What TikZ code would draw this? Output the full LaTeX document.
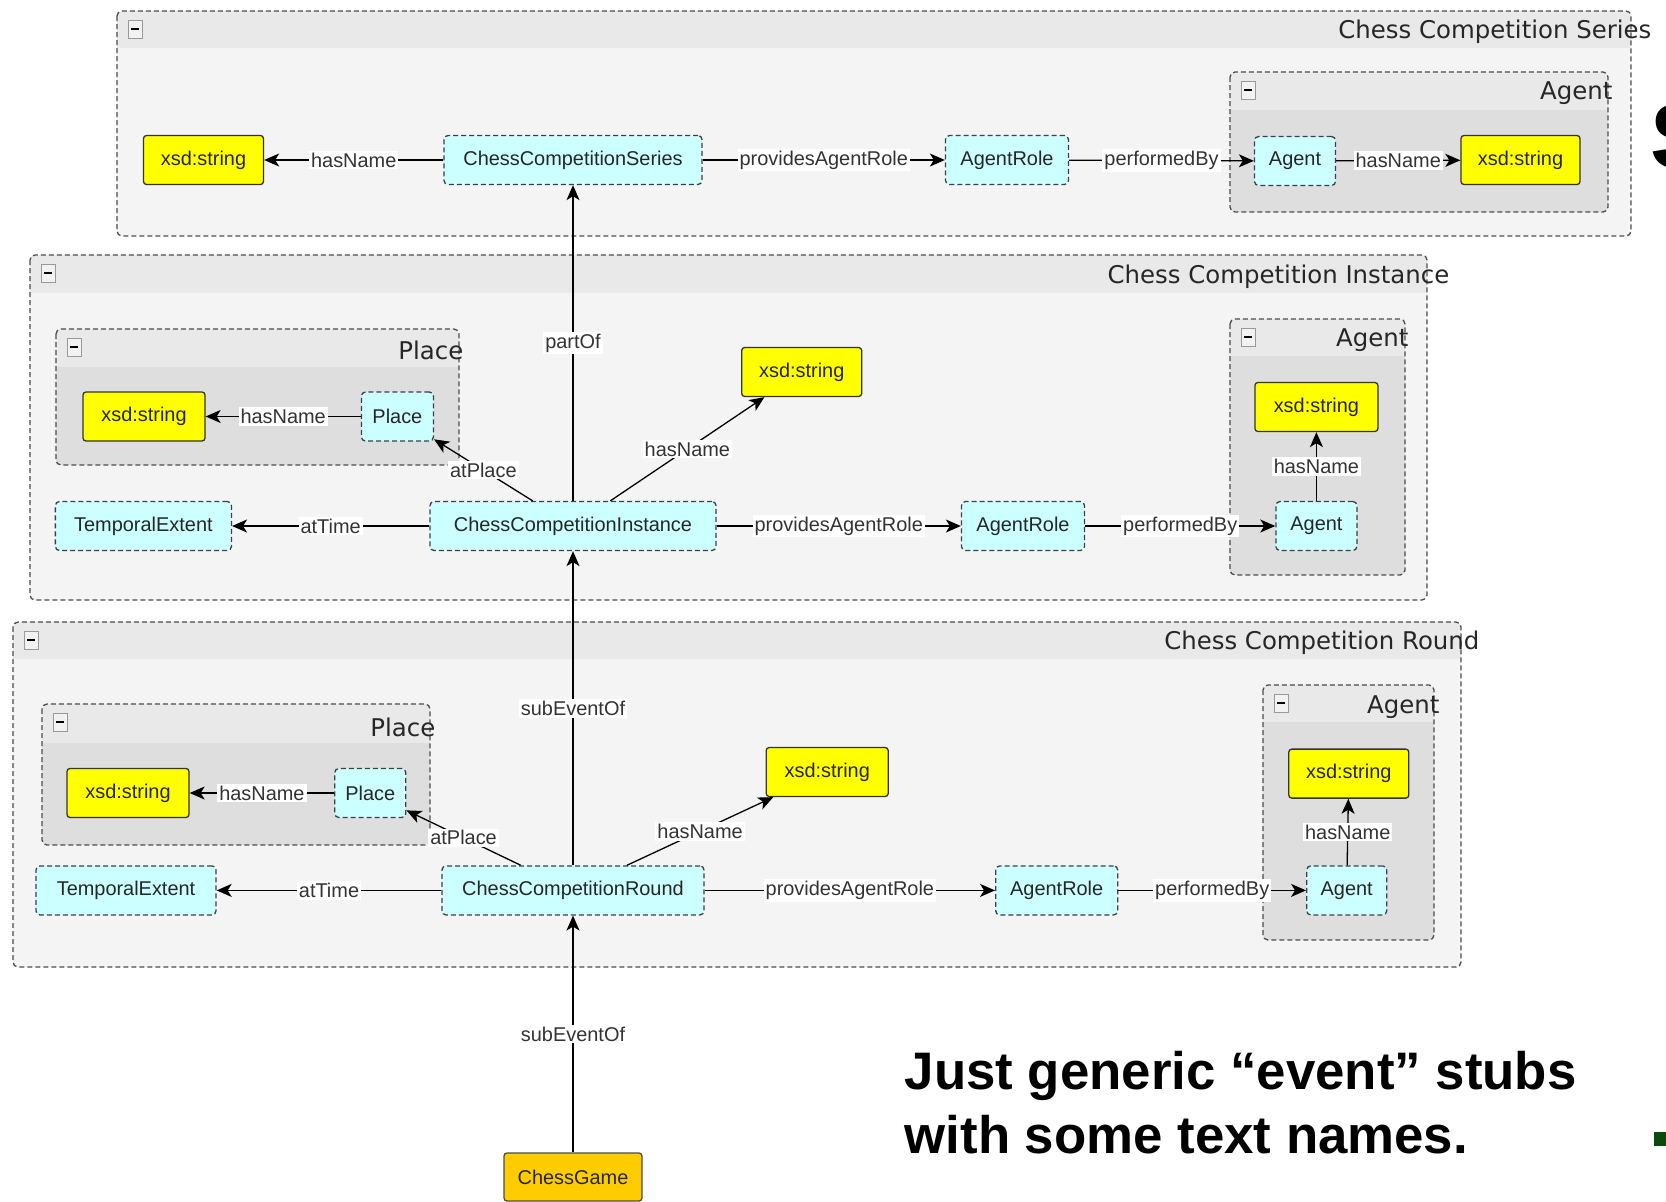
\documentclass[tikz,border=0pt]{standalone}
\usepackage{fontspec}
\setmainfont{Liberation Sans}
\newfontfamily\titlefont{DejaVu Sans}
\usetikzlibrary{arrows.meta}

\definecolor{clsfill}{HTML}{CCFFFF}
\definecolor{litfill}{HTML}{FFFF00}
\definecolor{gamefill}{HTML}{FFCC00}
\definecolor{grphead}{HTML}{E9E9E9}
\definecolor{grpbody}{HTML}{F4F4F4}
\definecolor{subbody}{HTML}{DEDEDE}
\definecolor{slidegreen}{HTML}{0A4A0A}

\newcommand{\lblsize}{\fontsize{20}{22}\selectfont}
% collapse button in the corner of a group
\newcommand{\MinusBox}[2]{%
  \draw[black!40, fill=black!5, line width=0.8bp] (#1-7,#2-9) rectangle (#1+7,#2+9);
  \draw[line width=2.2bp] (#1-4,#2) -- (#1+4,#2);}
% group frame: x1, y1, x2, y2, bottom of header, body colour
\newcommand{\GroupBox}[6]{%
  \begin{scope}
    \clip[rounded corners=5bp] (#1,#2) rectangle (#3,#4);
    \fill[grphead] (#1,#2) rectangle (#3,#5);
    \fill[#6] (#1,#5) rectangle (#3,#4);
  \end{scope}
  \draw[grpline] (#1,#2) rectangle (#3,#4);
  \MinusBox{#1+18}{#2+18}}

\begin{document}
\begin{tikzpicture}[
                    x=1bp, y=-1bp,
                    >={Stealth[length=15bp,width=13bp,inset=4bp]},
                    line width=1.3bp,
                    grpline/.style={black!70, dash pattern=on 5bp off 3bp, rounded corners=5bp},
                    cls/.style={draw=black!75, dash pattern=on 5bp off 3bp, fill=clsfill, rounded corners=4bp,
                                minimum height=49bp, font=\lblsize, text=black!85},
                    lit/.style={draw=black!80, fill=litfill, rounded corners=3bp,
                                minimum height=49bp, font=\lblsize, text=black!85},
                    game/.style={draw=black!70, fill=gamefill, rounded corners=3bp,
                                minimum height=48bp, font=\lblsize, text=black!85},
                    lbl/.style={fill=white, inner sep=2bp, font=\lblsize, text=black!80},
                    grptitle/.style={anchor=east, inner sep=0, font=\titlefont\fontsize{24.5}{26}\selectfont, text=black!85}]

                \useasboundingbox (0,0) rectangle (1666,1201);

                % groups
                \GroupBox{117}{11}{1631}{236}{48}{grpbody}
                \GroupBox{1230}{72}{1608}{212}{110}{subbody}
                \GroupBox{30}{255}{1427}{600}{293}{grpbody}
                \GroupBox{56}{329}{459}{465}{367}{subbody}
                \GroupBox{1230}{319}{1405}{575}{356}{subbody}
                \GroupBox{13}{622}{1461}{967}{659}{grpbody}
                \GroupBox{42}{704}{430}{845}{743}{subbody}
                \GroupBox{1263}{685}{1434}{940}{722}{subbody}

                \draw(1652,32) node[grptitle] (tSeries) {Chess Competition Series};
                \draw(1613,93) node[grptitle] (tAgentS) {Agent};
                \draw(1450,277) node[grptitle] (tInstance) {Chess Competition Instance};
                \draw(464,350) node[grptitle] (tPlaceI) {Place};
                \draw(1409,340) node[grptitle] (tAgentI) {Agent};
                \draw(1480,643) node[grptitle] (tRound) {Chess Competition Round};
                \draw(436,727) node[grptitle] (tPlaceR) {Place};
                \draw(1440,707) node[grptitle] (tAgentR) {Agent};

                % series
                \draw(203.5,160) node[lit, minimum width=120bp] (xsdS) {xsd:string};
                \draw(573,160) node[cls, minimum width=258bp] (ccs) {ChessCompetitionSeries};
                \draw(1007,160) node[cls, minimum width=123bp] (arS) {AgentRole};
                \draw(1295,161) node[cls, minimum width=81bp] (agS) {Agent};
                \draw(1520.5,160) node[lit, minimum width=119bp] (xsdAS) {xsd:string};

                % instance
                \draw(144,416.5) node[lit, minimum width=122bp] (xsdPI) {xsd:string};
                \draw(397.4,416.5) node[cls, minimum width=72bp] (placeI) {Place};
                \draw(143.4,526) node[cls, minimum width=176bp] (teI) {TemporalExtent};
                \draw(573,526) node[cls, minimum width=286bp] (cci) {ChessCompetitionInstance};
                \draw(801.7,372) node[lit, minimum width=120bp] (xsdI) {xsd:string};
                \draw(1023,526) node[cls, minimum width=123bp] (arI) {AgentRole};
                \draw(1316.4,407) node[lit, minimum width=123bp] (xsdAI) {xsd:string};
                \draw(1316.4,526) node[cls, minimum width=81bp] (agI) {Agent};

                % round
                \draw(128,793) node[lit, minimum width=122bp] (xsdPR) {xsd:string};
                \draw(370.3,793) node[cls, minimum width=71bp] (placeR) {Place};
                \draw(126,890.4) node[cls, minimum width=180bp] (teR) {TemporalExtent};
                \draw(573,890.4) node[cls, minimum width=262bp] (ccr) {ChessCompetitionRound};
                \draw(827.2,772) node[lit, minimum width=122bp] (xsdR) {xsd:string};
                \draw(1056.7,890.4) node[cls, minimum width=122bp] (arR) {AgentRole};
                \draw(1348.8,773.6) node[lit, minimum width=120bp] (xsdAR) {xsd:string};
                \draw(1346.7,890.4) node[cls, minimum width=80bp] (agR) {Agent};

                \draw(573,1177) node[game, minimum width=138bp] (game) {ChessGame};

                % edges
                \draw[->] (ccs) to node[lbl] {hasName} (xsdS);
                \draw[->] (ccs) to node[lbl] {providesAgentRole} (arS);
                \draw[->] (arS) to node[lbl] {performedBy} (agS);
                \draw[->] (agS) to node[lbl] {hasName} (xsdAS);

                \draw[->] (cci) to node[lbl] {partOf} (ccs);
                \draw[->] (cci) to node[lbl] {atTime} (teI);
                \draw[->] (cci) to node[lbl] {atPlace} (placeI);
                \draw[->] (cci) to node[lbl] {hasName} (xsdI);
                \draw[->] (cci) to node[lbl] {providesAgentRole} (arI);
                \draw[->] (arI) to node[lbl] {performedBy} (agI);
                \draw[->] (agI) to node[lbl] {hasName} (xsdAI);
                \draw[->] (placeI) to node[lbl] {hasName} (xsdPI);

                \draw[->] (ccr) to node[lbl] {subEventOf} (cci);
                \draw[->] (ccr) to node[lbl] {atTime} (teR);
                \draw[->] (ccr) to node[lbl] {atPlace} (placeR);
                \draw[->] (ccr) to node[lbl] {hasName} (xsdR);
                \draw[->] (ccr) to node[lbl] {providesAgentRole} (arR);
                \draw[->] (arR) to node[lbl] {performedBy} (agR);
                \draw[->] (agR) to node[lbl] {hasName} (xsdAR);
                \draw[->] (placeR) to node[lbl] {hasName} (xsdPR);

                \draw[->] (game) to node[lbl] {subEventOf} (ccr);

                % slide text
                \draw(904,1089) node[anchor=base west, inner sep=0, font=\bfseries\fontsize{53}{64}\selectfont] (noteA) {Just generic “event” stubs};
                \draw(904,1153) node[anchor=base west, inner sep=0, font=\bfseries\fontsize{53}{64}\selectfont] (noteB) {with some text names.};

                \begin{scope}
                  \clip (1648,90) rectangle (1666,180);
                  \draw(1650,136.5) node[anchor=west, inner sep=0, font=\bfseries\fontsize{93}{93}\selectfont] (cutS) {S};
                \end{scope}
                \fill[slidegreen] (1654,1132) rectangle (1666,1146);

            \end{tikzpicture}
\end{document}
